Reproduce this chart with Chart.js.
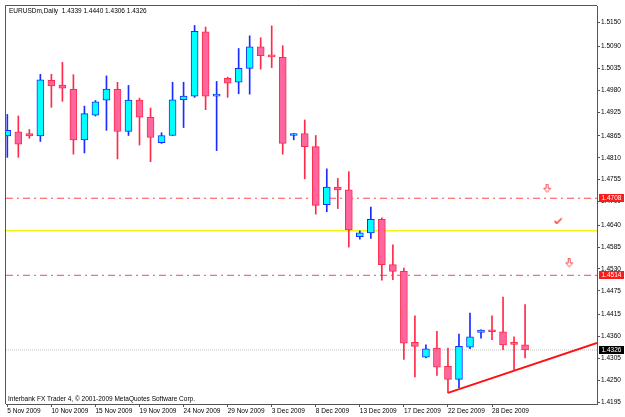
<!DOCTYPE html>
<html><head><meta charset="utf-8">
<script src="https://cdn.jsdelivr.net/npm/chart.js@4.4.0/dist/chart.umd.min.js"></script>
<style>html,body{margin:0;padding:0;background:#fff;overflow:hidden}</style>
</head><body>
<canvas id="c" width="625" height="417"></canvas>
<script>
const dates = ["5 Nov 2009","6 Nov 2009","8 Nov 2009","9 Nov 2009","10 Nov 2009","11 Nov 2009","12 Nov 2009","13 Nov 2009","15 Nov 2009","16 Nov 2009","17 Nov 2009","18 Nov 2009","19 Nov 2009","20 Nov 2009","22 Nov 2009","23 Nov 2009","24 Nov 2009","25 Nov 2009","26 Nov 2009","27 Nov 2009","29 Nov 2009","30 Nov 2009","1 Dec 2009","2 Dec 2009","3 Dec 2009","4 Dec 2009","6 Dec 2009","7 Dec 2009","8 Dec 2009","9 Dec 2009","10 Dec 2009","11 Dec 2009","13 Dec 2009","14 Dec 2009","15 Dec 2009","16 Dec 2009","17 Dec 2009","18 Dec 2009","20 Dec 2009","21 Dec 2009","22 Dec 2009","23 Dec 2009","24 Dec 2009","27 Dec 2009","28 Dec 2009","29 Dec 2009","30 Dec 2009","31 Dec 2009"];
const opens  = [1.4865,1.4875,1.4871,1.4865,1.5005,1.4993,1.4982,1.4855,1.4917,1.4955,1.4982,1.4876,1.4955,1.4912,1.4848,1.4866,1.4956,1.4965,1.5127,1.4965,1.5010,1.5000,1.5035,1.5089,1.5067,1.5063,1.4866,1.4871,1.4838,1.4692,1.4736,1.4729,1.4611,1.4621,1.4655,1.4541,1.4524,1.4345,1.4308,1.4331,1.4285,1.4252,1.4333,1.4370,1.4374,1.4372,1.4342,1.4339];
const highs  = [1.4919,1.4915,1.4881,1.5020,1.5020,1.5050,1.5019,1.4940,1.4954,1.5016,1.5000,1.4992,1.4960,1.4935,1.4873,1.5000,1.5000,1.5143,1.5139,1.5002,1.5013,1.5085,1.5117,1.5112,1.5142,1.5092,1.4871,1.4905,1.4866,1.4782,1.4758,1.4775,1.4626,1.4686,1.4659,1.4591,1.4532,1.4412,1.4339,1.4373,1.4331,1.4366,1.4419,1.4377,1.4412,1.4459,1.4359,1.4440];
const lows   = [1.4811,1.4811,1.4859,1.4851,1.4937,1.4952,1.4819,1.4822,1.4915,1.4879,1.4807,1.4866,1.4842,1.4800,1.4846,1.4866,1.4886,1.4962,1.4931,1.4828,1.4962,1.4971,1.4970,1.5033,1.5037,1.4819,1.4855,1.4757,1.4668,1.4674,1.4682,1.4585,1.4605,1.4607,1.4502,1.4503,1.4302,1.4258,1.4306,1.4262,1.4218,1.4231,1.4329,1.4356,1.4352,1.4327,1.4275,1.4306];
const closes = [1.4879,1.4844,1.4865,1.5006,1.4991,1.4985,1.4855,1.4921,1.4951,1.4983,1.4876,1.4955,1.4912,1.4861,1.4866,1.4956,1.4965,1.5128,1.4965,1.4969,1.4998,1.5035,1.5089,1.5067,1.5064,1.4846,1.4868,1.4838,1.4690,1.4736,1.4729,1.4628,1.4621,1.4655,1.4541,1.4524,1.4343,1.4335,1.4329,1.4283,1.4252,1.4335,1.4359,1.4376,1.4372,1.4339,1.4340,1.4326];
const yTicks = [1.5150,1.5090,1.5035,1.4980,1.4925,1.4865,1.4810,1.4755,1.4700,1.4640,1.4585,1.4530,1.4475,1.4415,1.4360,1.4305,1.4250,1.4195];
const xTickIdx = [0,4,8,12,16,20,24,28,32,36,40,44];
const redLevels = [1.4708, 1.4514];
const yellowLevels = [1.4626];
const bidLevels = [1.4326];
const trendX = [40, 53.53];
const trendY = [1.4218, 1.4344];
const arrowX = [49, 51];
const arrowY = [1.4732, 1.4544];
const checkX = [50];
const checkY = [1.4651];
const titleText = "EURUSDm,Daily  1.4339 1.4440 1.4306 1.4326";
const footerText = "Interbank FX Trader 4, \u00a9 2001-2009 MetaQuotes Software Corp.";

const X_MIN = -0.12, X_MAX = 53.53, Y_MIN = 1.4190, Y_MAX = 1.5192;
const FONT = '"Liberation Sans", Arial, sans-serif';
const BULL_FILL = '#00ffff', BULL_LINE = '#1a2cff', BEAR_FILL = '#ff66a0', BEAR_LINE = '#ff2a48';
const isBull = i => closes[i] >= opens[i];

const arrowImg = document.createElement('canvas'); arrowImg.width = 9; arrowImg.height = 10;
(() => { const g = arrowImg.getContext('2d'); g.strokeStyle = '#ff4a4a'; g.lineWidth = 1;
  g.beginPath(); g.moveTo(3.5,0.5); g.lineTo(5.5,0.5); g.lineTo(5.5,4.5); g.lineTo(8,4.5); g.lineTo(4.5,8.5); g.lineTo(1,4.5); g.lineTo(3.5,4.5); g.closePath(); g.stroke(); })();
const checkImg = document.createElement('canvas'); checkImg.width = 9; checkImg.height = 7;
(() => { const g = checkImg.getContext('2d'); g.strokeStyle = '#ff2020'; g.lineWidth = 1.3;
  g.beginPath(); g.moveTo(1,3.5); g.lineTo(3,6); g.lineTo(8,1); g.stroke(); })();

const idx = opens.map((_, i) => i);
const priceBoxes = [
  {v: redLevels[0], bg: '#ff1a1a'},
  {v: redLevels[1], bg: '#ff1a1a'},
  {v: bidLevels[0], bg: '#000000'}
];

const hLine = (v, color, dash, w, order) => ({
  type: 'line', data: [{x: X_MIN, y: v}, {x: X_MAX, y: v}], borderColor: color, borderWidth: w,
  borderDash: dash, pointRadius: 0, order: order, fill: false
});

const overlay = {
  id: 'overlay',
  beforeDraw(chart) {
    const {ctx} = chart; ctx.save(); ctx.fillStyle = '#fff'; ctx.fillRect(0, 0, chart.width, chart.height); ctx.restore();
  },
  afterDraw(chart) {
    const {ctx, chartArea: a, scales: {y}} = chart;
    ctx.save();
    ctx.strokeStyle = '#555'; ctx.lineWidth = 1;
    ctx.beginPath(); ctx.moveTo(a.left - 0.5, a.bottom); ctx.lineTo(a.left - 0.5, a.top - 0.5); ctx.lineTo(a.right, a.top - 0.5); ctx.stroke();
    ctx.font = '6.5px ' + FONT; ctx.fillStyle = '#000'; ctx.textBaseline = 'middle'; ctx.textAlign = 'left';
    ctx.fillText(titleText, a.left + 3, a.top + 5);
    ctx.fillText(footerText, a.left + 2, a.bottom - 5);
    priceBoxes.forEach(b => {
      const py = Math.round(y.getPixelForValue(b.v));
      ctx.fillStyle = b.bg; ctx.fillRect(a.right + 2, py - 4, 25, 8);
      ctx.fillStyle = '#fff'; ctx.textAlign = 'left';
      ctx.fillText(b.v.toFixed(4), a.right + 4.5, py + 0.5);
    });
    ctx.restore();
  }
};

new Chart(document.getElementById('c'), {
  type: 'bar',
  data: {
    datasets: [
      { label: 'bodies', data: idx.map(i => ({x: i, y: [opens[i], closes[i]]})), grouped: false, barThickness: 7, minBarLength: 2,
        backgroundColor: c => isBull(c.dataIndex) ? BULL_FILL : BEAR_FILL,
        borderColor: c => isBull(c.dataIndex) ? BULL_LINE : BEAR_LINE,
        borderWidth: 1, borderSkipped: false, order: 0 },
      { label: 'wicks', data: idx.map(i => ({x: i, y: [lows[i], highs[i]]})), grouped: false, barThickness: 1,
        backgroundColor: c => isBull(c.dataIndex) ? BULL_LINE : BEAR_LINE, borderWidth: 0, order: 1 },
      { type: 'line', label: 'trend', data: trendX.map((x, i) => ({x, y: trendY[i]})), borderColor: '#ff1010', borderWidth: 2, pointRadius: 0, order: 2 },
      ...redLevels.map(v => hLine(v, '#ff4848', [7, 4, 2, 4], 1, 3)),
      ...yellowLevels.map(v => hLine(v, '#f4f410', [], 1.5, 3)),
      ...bidLevels.map(v => hLine(v, '#c4c4c4', [1, 1], 1, 4)),
      { type: 'line', label: 'arrows', data: arrowX.map((x, i) => ({x, y: arrowY[i]})), showLine: false, pointStyle: arrowImg, pointRadius: 5, order: 0 },
      { type: 'line', label: 'checks', data: checkX.map((x, i) => ({x, y: checkY[i]})), showLine: false, pointStyle: checkImg, pointRadius: 5, order: 0 }
    ]
  },
  options: {
    responsive: false, animation: false, devicePixelRatio: 1,
    layout: {padding: {left: 2, top: 2, right: 0, bottom: 0}},
    plugins: {legend: {display: false}, tooltip: {enabled: false}},
    scales: {
      x: { type: 'linear', min: X_MIN, max: X_MAX, offset: false, position: 'bottom',
        grid: {drawOnChartArea: false, drawTicks: true, tickLength: 3, color: '#555', offset: false},
        border: {color: '#555', width: 1},
        ticks: {align: 'start', padding: 0, autoSkip: false, maxRotation: 0, color: '#000', font: {family: FONT, size: 6.5},
          callback: v => dates[v] },
        afterBuildTicks: s => { s.ticks = xTickIdx.map(v => ({value: v})); },
        afterFit: s => { s.height = 13; s.paddingLeft = 0; s.paddingRight = 0; }
      },
      y: { type: 'linear', position: 'right', min: Y_MIN, max: Y_MAX, beginAtZero: false,
        grid: {drawOnChartArea: false, drawTicks: true, tickLength: 3, color: '#555'},
        border: {color: '#555', width: 1},
        ticks: {padding: 1, color: '#000', font: {family: FONT, size: 6.5}, callback: v => Number(v).toFixed(4)},
        afterBuildTicks: s => { s.ticks = yTicks.map(v => ({value: v})); },
        afterFit: s => { s.width = 28; s.paddingTop = 0; s.paddingBottom = 0; }
      }
    }
  },
  plugins: [overlay]
});
</script>
</body></html>
